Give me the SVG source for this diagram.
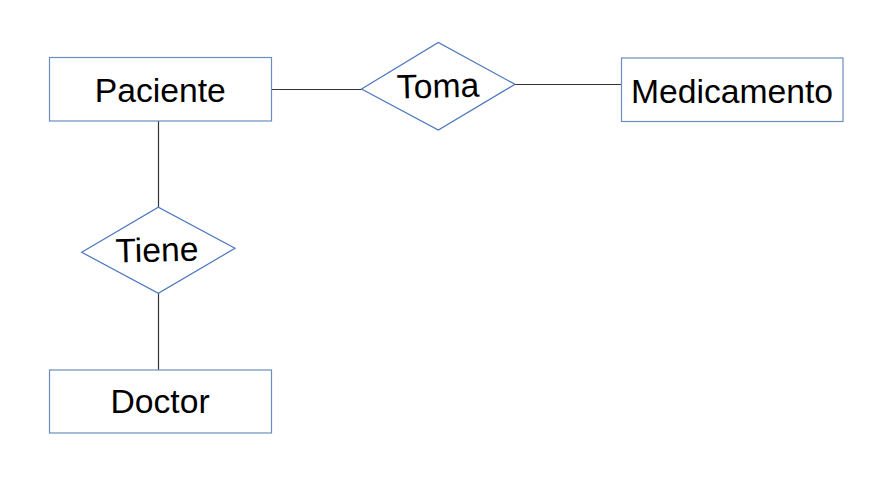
<svg xmlns="http://www.w3.org/2000/svg" width="880" height="503" viewBox="0 0 880 503">
<style>
.ent{fill:#ffffff;stroke:#6c8ebf;stroke-width:1.2}
.rel{fill:#ffffff;stroke:#4a76bd;stroke-width:1.2}
.lbl{font-family:"Liberation Sans",Arial,sans-serif;font-size:33.7px;fill:#000000;text-anchor:middle}
.con{stroke:#333333;stroke-width:1.2;fill:none}
</style>
<rect width="880" height="503" fill="#ffffff"/>
<g id="connectors">
<line class="con" x1="271.5" y1="89.5" x2="361.5" y2="89.5"/>
<line class="con" x1="515" y1="84.5" x2="621.5" y2="84.5"/>
<line class="con" x1="158.5" y1="121" x2="158.5" y2="207.5"/>
<line class="con" x1="158.5" y1="293.5" x2="158.5" y2="370"/>
</g>
<g id="paciente">
<rect class="ent" x="49.5" y="57.5" width="222" height="63.5"/>
<text class="lbl" x="160.3" y="101.7">Paciente</text>
</g>
<g id="medicamento">
<rect class="ent" x="621.5" y="58" width="221.5" height="63.5"/>
<text class="lbl" x="732" y="102.5">Medicamento</text>
</g>
<g id="doctor">
<rect class="ent" x="49.5" y="370" width="222" height="63"/>
<text class="lbl" x="160" y="413.3">Doctor</text>
</g>
<g id="toma">
<polygon class="rel" points="361.5,89 438.3,42.5 515,84.3 438.3,130"/>
<text class="lbl" x="438" y="97.5" transform="rotate(-1.5 438 87)">Toma</text>
</g>
<g id="tiene">
<polygon class="rel" points="81.7,252.3 158.3,207.3 235,248.3 158.3,293.3"/>
<text class="lbl" x="157" y="261.5" transform="rotate(-1.5 157 250)">Tiene</text>
</g>
</svg>
